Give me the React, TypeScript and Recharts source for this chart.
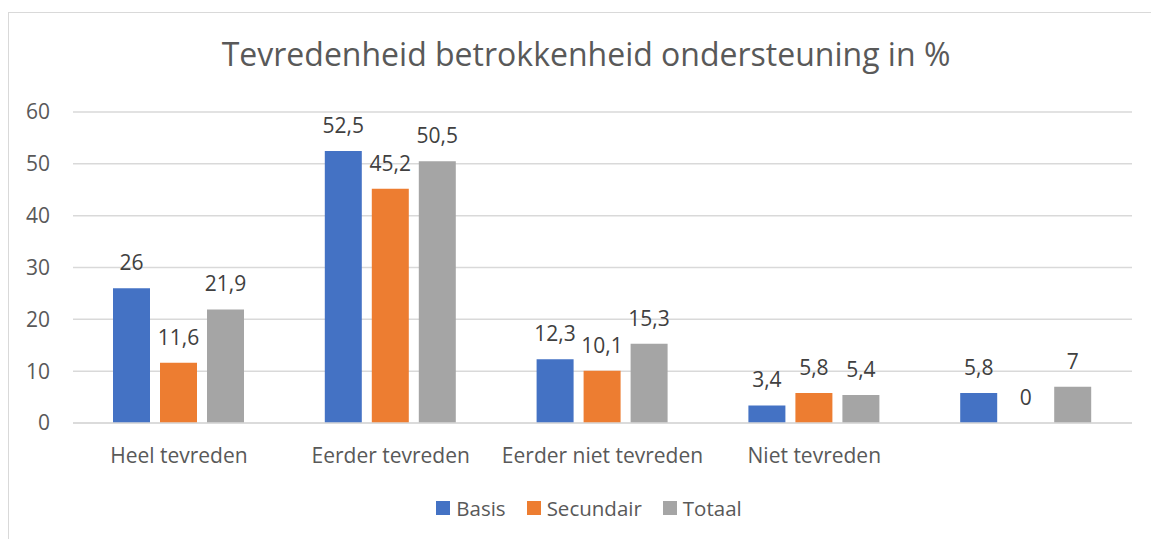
import React from 'react';
import { BarChart, Bar, XAxis, YAxis, CartesianGrid, LabelList } from 'recharts';

const categories = ['Heel tevreden', 'Eerder tevreden', 'Eerder niet tevreden', 'Niet tevreden', ''];
const basis = [26, 52.5, 12.3, 3.4, 5.8];
const secundair = [11.6, 45.2, 10.1, 5.8, 0];
const totaal = [21.9, 50.5, 15.3, 5.4, 7];
const yTicks = [0, 10, 20, 30, 40, 50, 60];

const seriesNames = ['Basis', 'Secundair', 'Totaal'];
const seriesColors = ['#4472C4', '#ED7D31', '#A5A5A5'];
const seriesKeys = ['basis', 'secundair', 'totaal'];

const data = categories.map((c, i) => ({
  name: c,
  basis: basis[i],
  secundair: secundair[i],
  totaal: totaal[i],
}));

const FONT = '"Open Sans", Lato, sans-serif';
const fmt = (v: any) => String(v).replace('.', ',');

export default function App() {
  return (
    <div
      style={{
        position: 'absolute',
        left: 0,
        top: 0,
        width: 1151,
        height: 539,
        overflow: 'hidden',
        background: '#fff',
        fontFamily: FONT,
      }}
    >
      <div
        style={{
          position: 'absolute',
          left: 8,
          top: 12,
          width: 1300,
          height: 800,
          border: '1.5px solid #d9d9d9',
          boxSizing: 'border-box',
        }}
      />
      <div
        style={{
          position: 'absolute',
          left: 0,
          top: 34,
          width: 1172,
          textAlign: 'center',
          fontSize: 32,
          color: '#595959',
          lineHeight: '40px',
          whiteSpace: 'nowrap',
        }}
      >
        Tevredenheid betrokkenheid ondersteuning in %
      </div>
      <div style={{ position: 'absolute', left: 0, top: 0 }}>
        <BarChart
          width={1151}
          height={539}
          data={data}
          margin={{ top: 112, right: 19, bottom: 86, left: 23 }}
          barSize={37}
          barGap={10}
        >
          <CartesianGrid vertical={false} stroke="#d9d9d9" strokeWidth={1.5} />
          <XAxis
            dataKey="name"
            axisLine={{ stroke: '#d9d9d9', strokeWidth: 1.5 }}
            tickLine={false}
            tickSize={0}
            tickMargin={25}
            interval={0}
            tick={{ fill: '#595959', fontSize: 21, fontFamily: FONT }}
          />
          <YAxis
            domain={[0, 60]}
            ticks={yTicks}
            width={50}
            axisLine={false}
            tickLine={false}
            tickSize={0}
            tickMargin={23}
            tick={{ fill: '#595959', fontSize: 21, fontFamily: FONT }}
          />
          {seriesKeys.map((k, i) => (
            <Bar
              key={k}
              dataKey={k}
              name={seriesNames[i]}
              fill={seriesColors[i]}
              minPointSize={0.01}
              isAnimationActive={false}
            >
              <LabelList
                dataKey={k}
                position="top"
                offset={18}
                formatter={fmt}
                style={{ fill: '#404040', fontSize: 21, fontFamily: FONT }}
              />
            </Bar>
          ))}
        </BarChart>
      </div>
      <div
        style={{
          position: 'absolute',
          left: 0,
          top: 494,
          width: 1178,
          display: 'flex',
          justifyContent: 'center',
          alignItems: 'center',
          fontSize: 20.5,
          color: '#595959',
          lineHeight: '28px',
        }}
      >
        {seriesNames.map((n, i) => (
          <div key={n} style={{ display: 'flex', alignItems: 'center', marginRight: i < 2 ? 21 : 0 }}>
            <span
              style={{
                display: 'inline-block',
                width: 14,
                height: 14,
                background: seriesColors[i],
                marginRight: 6,
              }}
            />
            <span>{n}</span>
          </div>
        ))}
      </div>
    </div>
  );
}
